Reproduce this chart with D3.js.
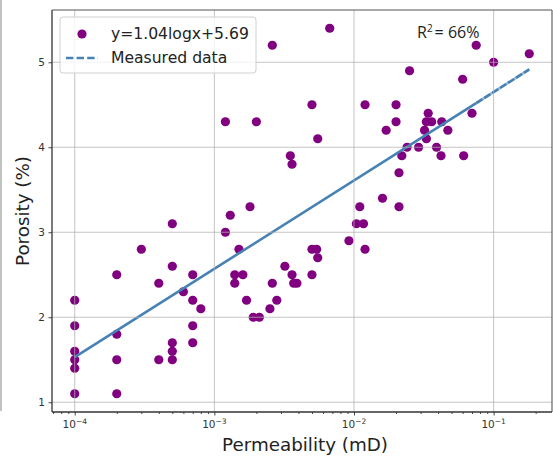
<!DOCTYPE html>
<html>
<head>
<meta charset="utf-8">
<script src="https://cdn.jsdelivr.net/npm/d3@7"></script>
<style>
  html, body { margin: 0; padding: 0; background: #fff; }
  svg { display: block; }
</style>
</head>
<body>
<svg id="chart" width="553" height="460"></svg>
<script>
// Core samples: permeability (mD) and porosity (%)
const permeability = [
  0.0001, 0.0001, 0.0001, 0.0001, 0.0001, 0.0001,
  0.0002, 0.0002, 0.0002, 0.0002,
  0.0003,
  0.0004, 0.0004,
  0.0005, 0.0005, 0.0005, 0.0005, 0.0005,
  0.0006,
  0.0007, 0.0007, 0.0007, 0.0007,
  0.0008,
  0.0012, 0.0012, 0.0013, 0.0014, 0.0014, 0.0015, 0.0016, 0.0017, 0.0018, 0.0019,
  0.0020, 0.0021, 0.0025, 0.0026, 0.0026, 0.0028, 0.0032, 0.0035, 0.0036, 0.0036,
  0.0037, 0.0039, 0.0050, 0.0050, 0.0050, 0.0054, 0.0055, 0.0055, 0.0067, 0.0092,
  0.0104, 0.0110, 0.0117, 0.0120, 0.0120,
  0.016, 0.017, 0.020, 0.020, 0.021, 0.021, 0.022, 0.024, 0.025, 0.029,
  0.032, 0.033, 0.033, 0.034, 0.036, 0.039, 0.042, 0.0425, 0.047,
  0.060, 0.061, 0.070, 0.075, 0.100, 0.180
];
const porosity = [
  2.2, 1.9, 1.6, 1.5, 1.4, 1.1,
  2.5, 1.8, 1.5, 1.1,
  2.8,
  2.4, 1.5,
  3.1, 2.6, 1.7, 1.6, 1.5,
  2.3,
  2.5, 2.2, 1.9, 1.7,
  2.1,
  3.0, 4.3, 3.2, 2.5, 2.4, 2.8, 2.5, 2.2, 3.3, 2.0,
  4.3, 2.0, 2.1, 5.2, 2.4, 2.2, 2.6, 3.9, 3.8, 2.5,
  2.4, 2.4, 4.5, 2.5, 2.8, 2.8, 4.1, 2.7, 5.4, 2.9,
  3.1, 3.3, 3.1, 4.5, 2.8,
  3.4, 4.2, 4.5, 4.3, 3.7, 3.3, 3.9, 4.0, 4.9, 4.0,
  4.2, 4.3, 4.1, 4.4, 4.3, 4.0, 3.9, 4.3, 4.2,
  4.8, 3.9, 4.4, 5.2, 5.0, 5.1
];

// Log fit: porosity = slope * log10(k) + intercept
const fitSlope = 1.04;
const fitIntercept = 5.69;
const fitLabel = "y=1.04logx+5.69";
const lineLabel = "Measured data";
const r2Label = "66%";

const xTickExponents = [-4, -3, -2, -1];
const yTickValues = [1, 2, 3, 4, 5];

const W = 553, H = 460;
const plot = { left: 52, right: 552, top: 10, bottom: 412 };

const svg = d3.select("#chart");
svg.append("rect").attr("width", W).attr("height", H).attr("fill", "#fff");

// Domains padded 5% beyond the data (log space for x)
const lx = d3.extent(permeability, d => Math.log10(d));
const px = (lx[1] - lx[0]) * 0.05;
const x = d3.scaleLog()
  .domain([Math.pow(10, lx[0] - px), Math.pow(10, lx[1] + px)])
  .range([plot.left, plot.right]);

const ly = d3.extent(porosity);
const py = (ly[1] - ly[0]) * 0.05;
const y = d3.scaleLinear()
  .domain([ly[0] - py, ly[1] + py])
  .range([plot.bottom, plot.top]);

const data = permeability.map((k, i) => ({ k, p: porosity[i] }));

// Frame edge on the far left
svg.append("line")
  .attr("x1", 1).attr("x2", 1).attr("y1", 0).attr("y2", 411)
  .attr("stroke", "#9a9a9a").attr("stroke-width", 1.2);

svg.append("defs").append("clipPath").attr("id", "plotclip")
  .append("rect")
  .attr("x", plot.left).attr("y", plot.top)
  .attr("width", plot.right - plot.left).attr("height", plot.bottom - plot.top);

const inner = svg.append("g").attr("clip-path", "url(#plotclip)");

// Scatter points
inner.append("g").selectAll("circle")
  .data(data)
  .join("circle")
  .attr("cx", d => x(d.k))
  .attr("cy", d => y(d.p))
  .attr("r", 4.6)
  .attr("fill", "#800080");

// Fitted line across the data range
const kMin = d3.min(permeability), kMax = d3.max(permeability);
const fit = k => fitSlope * Math.log10(k) + fitIntercept;
const kBreak = 0.075;
const lineGen = d3.line().x(d => x(d)).y(d => y(fit(d)));
inner.append("path")
  .attr("d", lineGen([kMin, kBreak]))
  .attr("fill", "none").attr("stroke", "#4682b4").attr("stroke-width", 2.6);
inner.append("path")
  .attr("d", lineGen([kBreak, kMax]))
  .attr("fill", "none").attr("stroke", "#9dbbd6").attr("stroke-width", 2.6);
inner.append("path")
  .attr("d", lineGen([kBreak, kMax]))
  .attr("fill", "none").attr("stroke", "#4682b4").attr("stroke-width", 2.6)
  .attr("stroke-dasharray", "7.4,2");

// Grid (drawn over the markers)
const grid = svg.append("g")
  .attr("stroke", "#b0b0b0").attr("stroke-width", 1).attr("stroke-opacity", 0.75);
xTickExponents.forEach(e => {
  const xv = x(Math.pow(10, e));
  grid.append("line").attr("x1", xv).attr("x2", xv)
    .attr("y1", plot.top).attr("y2", plot.bottom);
});
yTickValues.forEach(v => {
  grid.append("line").attr("x1", plot.left).attr("x2", plot.right)
    .attr("y1", y(v)).attr("y2", y(v));
});

// Axes
const xAxis = d3.axisBottom(x)
  .tickValues(xTickExponents.map(e => Math.pow(10, e)))
  .tickSize(3.5).tickFormat("");
const gx = svg.append("g").attr("transform", `translate(0,${plot.bottom})`).call(xAxis);

// Minor log ticks
const minor = [];
for (let e = -5; e <= 0; e++) {
  for (let m = 2; m <= 9; m++) {
    const v = m * Math.pow(10, e);
    if (v > x.domain()[0] && v < x.domain()[1]) minor.push(v);
  }
}
const gxMinor = svg.append("g").attr("transform", `translate(0,${plot.bottom})`)
  .call(d3.axisBottom(x).tickValues(minor).tickSize(2).tickFormat(""));

const yAxis = d3.axisLeft(y).tickValues(yTickValues).tickSize(3.5).tickFormat("");
const gy = svg.append("g").attr("transform", `translate(${plot.left},0)`).call(yAxis);

[gx, gy, gxMinor].forEach(g => {
  g.selectAll("line").attr("stroke", "#333").attr("stroke-width", 0.9);
  g.select(".domain").remove();
});

// Spines
const spines = svg.append("g").attr("fill", "none");
spines.append("line").attr("x1", plot.left).attr("x2", plot.left)
  .attr("y1", plot.top).attr("y2", plot.bottom).attr("stroke", "#333").attr("stroke-width", 1.3);
spines.append("line").attr("x1", plot.left).attr("x2", plot.right)
  .attr("y1", plot.bottom).attr("y2", plot.bottom).attr("stroke", "#333").attr("stroke-width", 1.3);
spines.append("line").attr("x1", plot.left).attr("x2", plot.right)
  .attr("y1", plot.top).attr("y2", plot.top).attr("stroke", "#555").attr("stroke-width", 1.1);
spines.append("line").attr("x1", plot.right).attr("x2", plot.right)
  .attr("y1", plot.top).attr("y2", plot.bottom).attr("stroke", "#555").attr("stroke-width", 1.1);

const font = "DejaVu Sans, sans-serif";

// X tick labels: 10^e
xTickExponents.forEach(e => {
  const t = svg.append("text")
    .attr("x", x(Math.pow(10, e)))
    .attr("y", 428)
    .attr("text-anchor", "middle")
    .attr("font-family", font).attr("font-size", 10.5).attr("fill", "#333");
  t.append("tspan").text("10");
  t.append("tspan").attr("dy", -4.5).attr("font-size", 7.5).text("\u2212" + Math.abs(e));
});

// Y tick labels
yTickValues.forEach(v => {
  svg.append("text")
    .attr("x", 45).attr("y", y(v))
    .attr("dy", "0.35em")
    .attr("text-anchor", "end")
    .attr("font-family", font).attr("font-size", 10.5).attr("fill", "#333")
    .text(v);
});

// Axis titles
svg.append("text")
  .attr("x", (plot.left + plot.right) / 2 + 3).attr("y", 451)
  .attr("text-anchor", "middle")
  .attr("font-family", font).attr("font-size", 18.3).attr("fill", "#222")
  .text("Permeability (mD)");
svg.append("text")
  .attr("transform", `translate(29,${(plot.top + plot.bottom) / 2}) rotate(-90)`)
  .attr("text-anchor", "middle")
  .attr("font-family", font).attr("font-size", 18.3).attr("fill", "#222")
  .text("Porosity (%)");

// Coefficient of determination
const r2 = svg.append("text")
  .attr("x", 417).attr("y", 38)
  .attr("font-family", "Open Sans, sans-serif").attr("font-size", 16).attr("fill", "#222");
r2.append("tspan").text("R");
r2.append("tspan").attr("dy", -6).attr("font-size", 10).text("2");
r2.append("tspan").attr("dy", 6).attr("dx", 2).text("= " + r2Label);

// Legend
const lg = svg.append("g");
lg.append("rect")
  .attr("x", 60).attr("y", 17).attr("width", 196).attr("height", 56).attr("rx", 3)
  .attr("fill", "#fff").attr("fill-opacity", 0.8)
  .attr("stroke", "#d0d0d0").attr("stroke-width", 1);
lg.append("circle").attr("cx", 82).attr("cy", 34).attr("r", 4.6).attr("fill", "#800080");
lg.append("line").attr("x1", 66).attr("x2", 98).attr("y1", 58).attr("y2", 58)
  .attr("stroke", "#4682b4").attr("stroke-width", 2.5).attr("stroke-dasharray", "7.4,3.2");
lg.append("text").attr("x", 111).attr("y", 34).attr("dy", "0.35em")
  .attr("font-family", font).attr("font-size", 15.6).attr("fill", "#222")
  .text(fitLabel);
lg.append("text").attr("x", 111).attr("y", 58).attr("dy", "0.35em")
  .attr("font-family", font).attr("font-size", 15.6).attr("fill", "#222")
  .text(lineLabel);
</script>
</body>
</html>
